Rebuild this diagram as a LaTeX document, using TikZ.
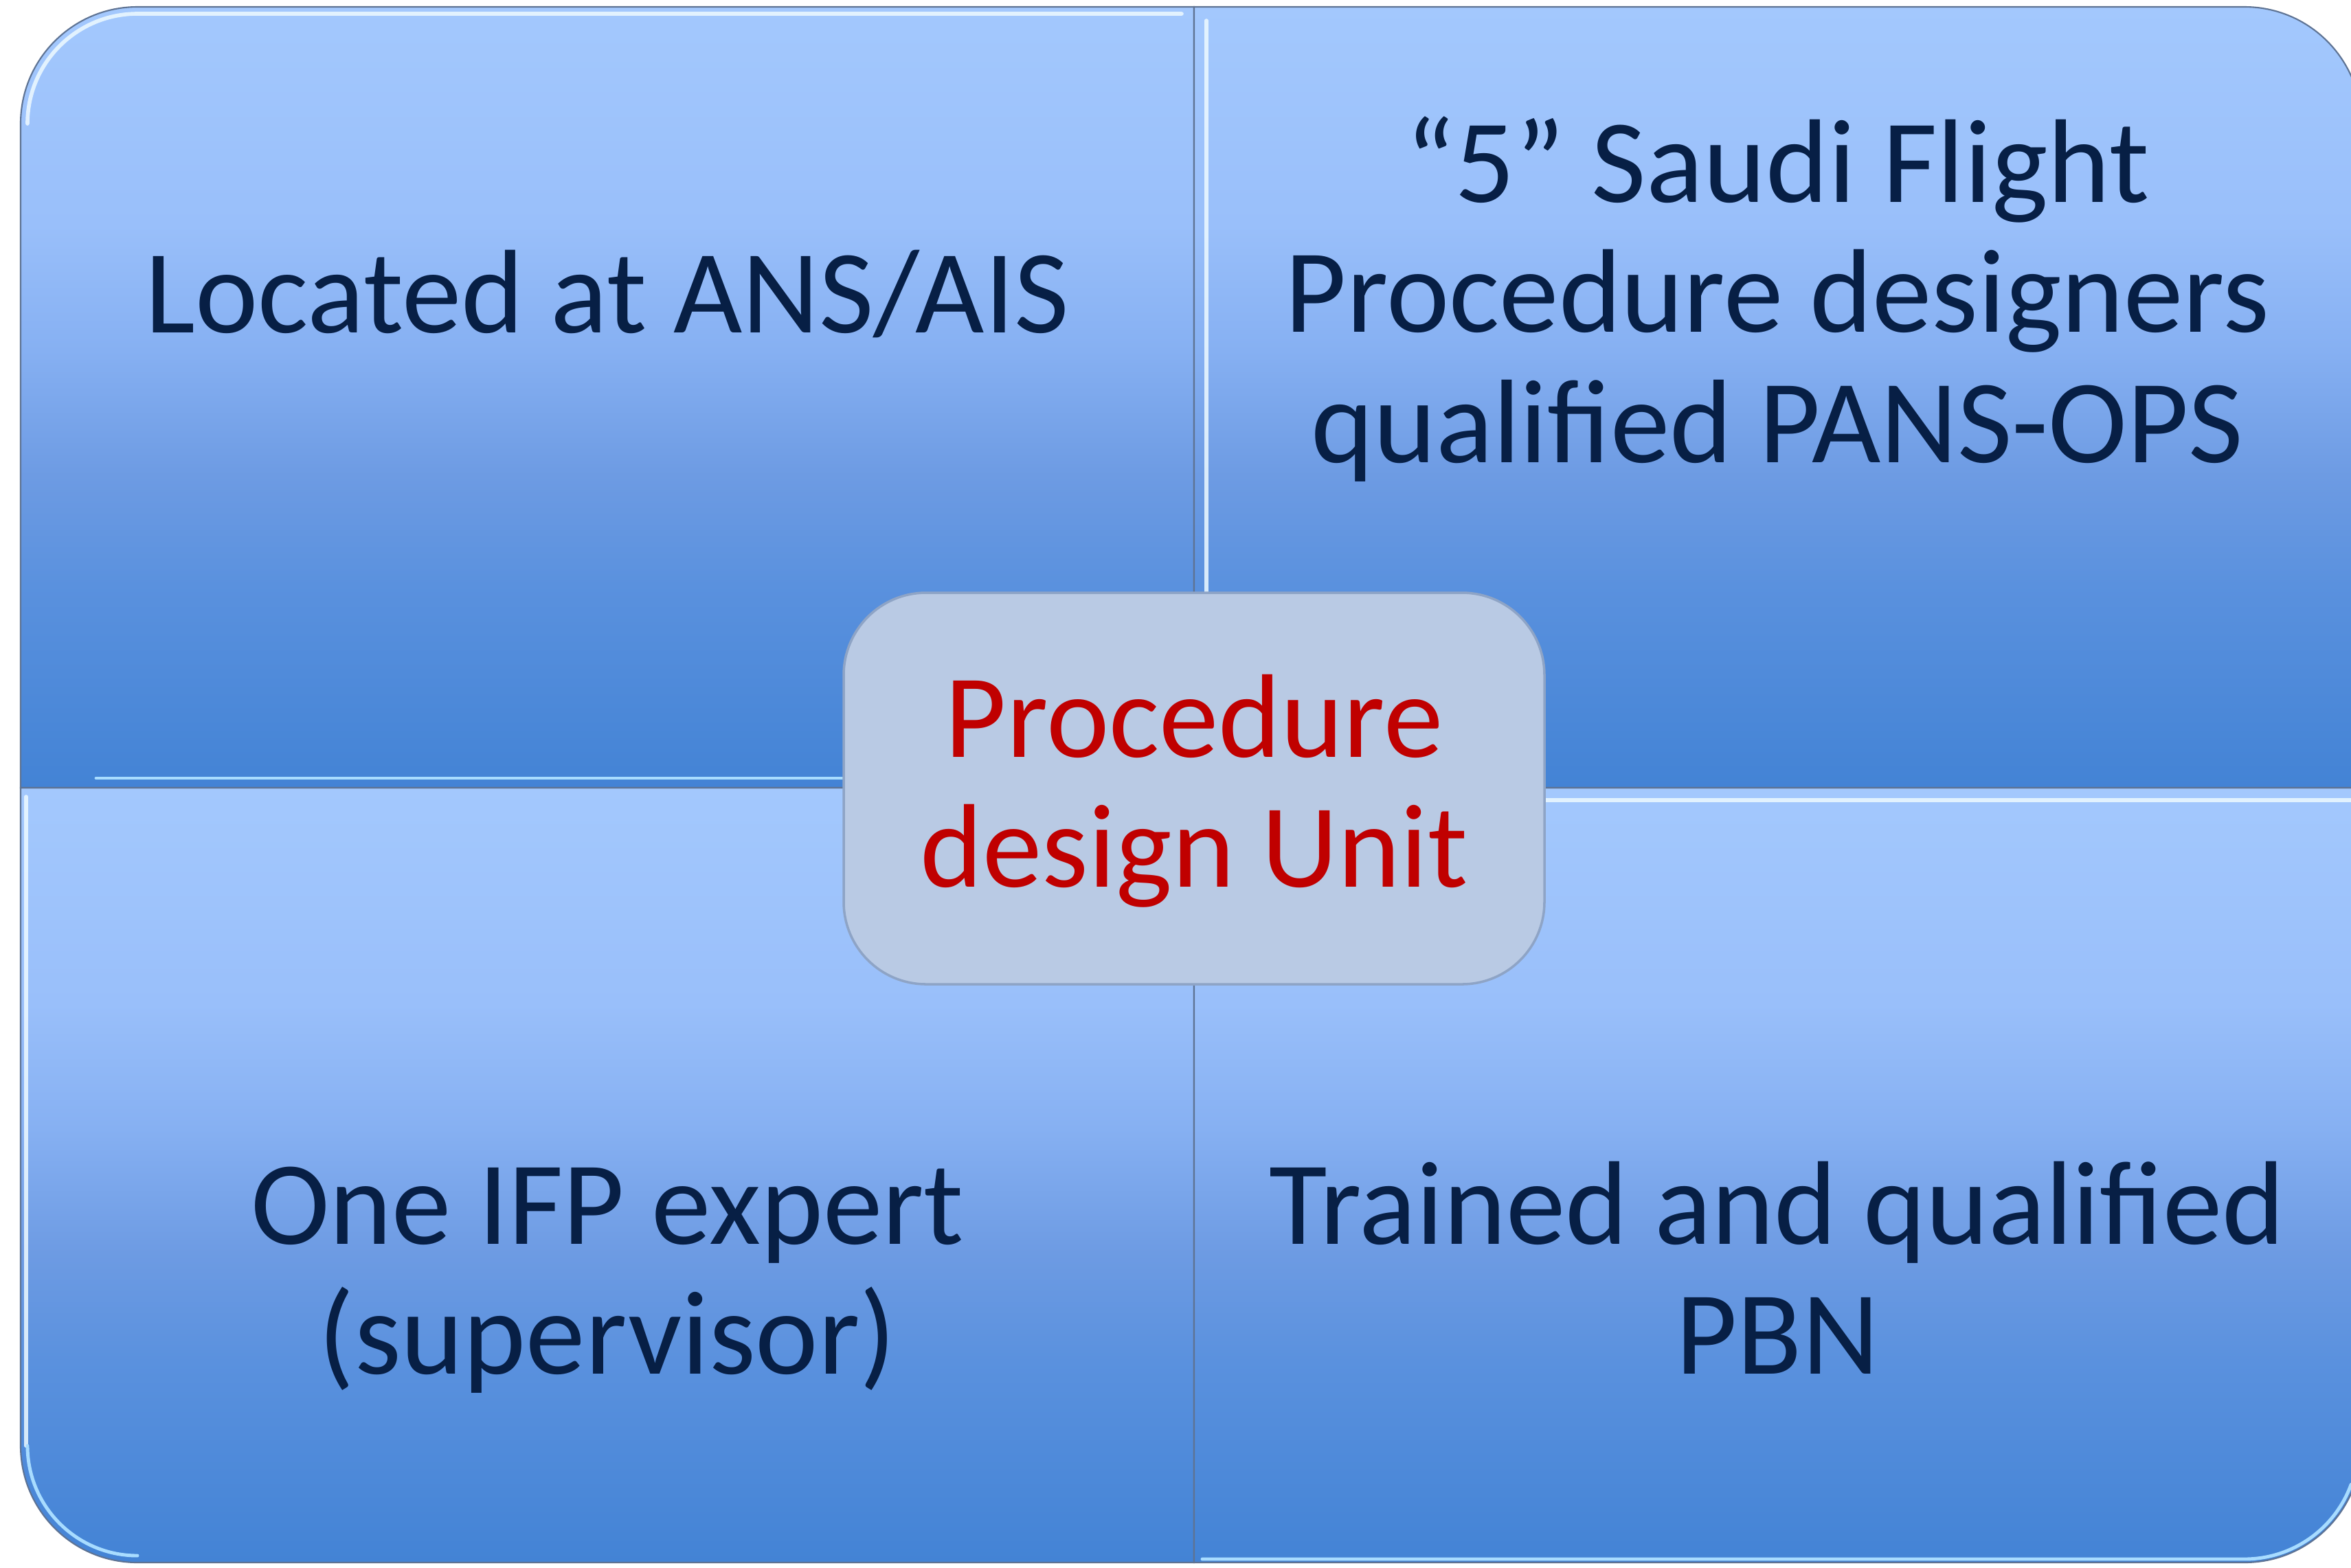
\documentclass[tikz,border=0pt]{standalone}
\usepackage{fontspec}
\setmainfont{Carlito}
\definecolor{qtop}{HTML}{A3C8FD}
\definecolor{qa}{HTML}{99BFFA}
\definecolor{qb}{HTML}{86B0F2}
\definecolor{qc}{HTML}{6D9BE3}
\definecolor{qd}{HTML}{5A91DE}
\definecolor{qbot}{HTML}{4383D5}
\definecolor{txt}{HTML}{071F45}
\definecolor{unitred}{HTML}{C00000}
\definecolor{unitfill}{HTML}{B9CAE4}
\definecolor{unitedge}{HTML}{8EA4C6}
\definecolor{edge}{HTML}{5E7393}
\definecolor{hilite}{HTML}{EEFAFF}
\definecolor{hicyan}{HTML}{A8DCFF}
\pgfdeclareverticalshading{quadshade}{100bp}{color(0bp)=(qbot); color(25bp)=(qbot); color(38bp)=(qd); color(45bp)=(qc); color(53bp)=(qb); color(61bp)=(qa); color(75bp)=(qtop); color(100bp)=(qtop)}
\tikzset{
  quad/.style={shading=quadshade, draw=edge, line width=0.6pt},
  hl/.style={draw=hilite, line width=1.6pt, line cap=round, opacity=0.85},
  hlc/.style={draw=hicyan, line width=1.4pt, line cap=round},
  lbl/.style={text=txt, font=\fontsize{49.3}{54}\selectfont, inner sep=0pt, anchor=base},
  unitlbl/.style={text=unitred, font=\fontsize{49.3}{54}\selectfont, inner sep=0pt, anchor=base}
}
\begin{document}
\begin{tikzpicture}
\useasboundingbox (0,0) rectangle (34.22,-22.82);
\fill[white] (0,0) rectangle (34.22,-22.82);
% quadrants
\shade[quad] (0.30,-11.47) -- (0.30,-1.80) arc[start angle=180,end angle=90,radius=1.70] -- (17.38,-0.10) -- (17.38,-11.47) -- cycle;
\shade[quad] (17.38,-0.10) -- (32.67,-0.10) arc[start angle=90,end angle=0,radius=1.70] -- (34.37,-11.47) -- (17.38,-11.47) -- cycle;
\shade[quad] (0.30,-11.47) -- (17.38,-11.47) -- (17.38,-22.75) -- (2.00,-22.75) arc[start angle=270,end angle=180,radius=1.70] -- cycle;
\shade[quad] (17.38,-11.47) -- (34.37,-11.47) -- (34.37,-21.05) arc[start angle=0,end angle=-90,radius=1.70] -- (17.38,-22.75) -- cycle;
% bevel highlights
\draw[hl] (0.40,-1.80) arc[start angle=180,end angle=90,radius=1.60] -- (17.20,-0.20);
\draw[hlc] (1.40,-11.33) -- (17.25,-11.33);
\draw[hl] (17.56,-0.30) -- (17.56,-11.30);
\draw[hl] (0.38,-11.60) -- (0.38,-21.05);
\draw[hlc] (0.40,-21.05) arc[start angle=180,end angle=270,radius=1.60];
\draw[hl] (17.50,-11.65) -- (34.30,-11.65);
\draw[hlc] (17.50,-22.70) -- (32.67,-22.70) arc[start angle=-90,end angle=-20,radius=1.65];
% texts
\node[lbl] (tl) at (8.84,-4.84) {Located at ANS/AIS};
\node[lbl] (tr) at (25.87,-2.94) {\begin{tabular}[t]{@{}c@{}}“5” Saudi Flight\\Procedure designers\\qualified PANS-OPS\end{tabular}};
\node[lbl] (bl) at (8.84,-18.11) {\begin{tabular}[t]{@{}c@{}}One IFP expert\\(supervisor)\end{tabular}};
\node[lbl] (br) at (25.87,-18.11) {\begin{tabular}[t]{@{}c@{}}Trained and qualified\\PBN\end{tabular}};
% center unit
\draw[unitedge, fill=unitfill, line width=1pt, rounded corners=1.2cm] (12.28,-8.63) rectangle (22.48,-14.33);
\node[unitlbl] (unit) at (17.38,-11.02) {\begin{tabular}[t]{@{}c@{}}Procedure\\design Unit\end{tabular}};
\end{tikzpicture}
\end{document}
